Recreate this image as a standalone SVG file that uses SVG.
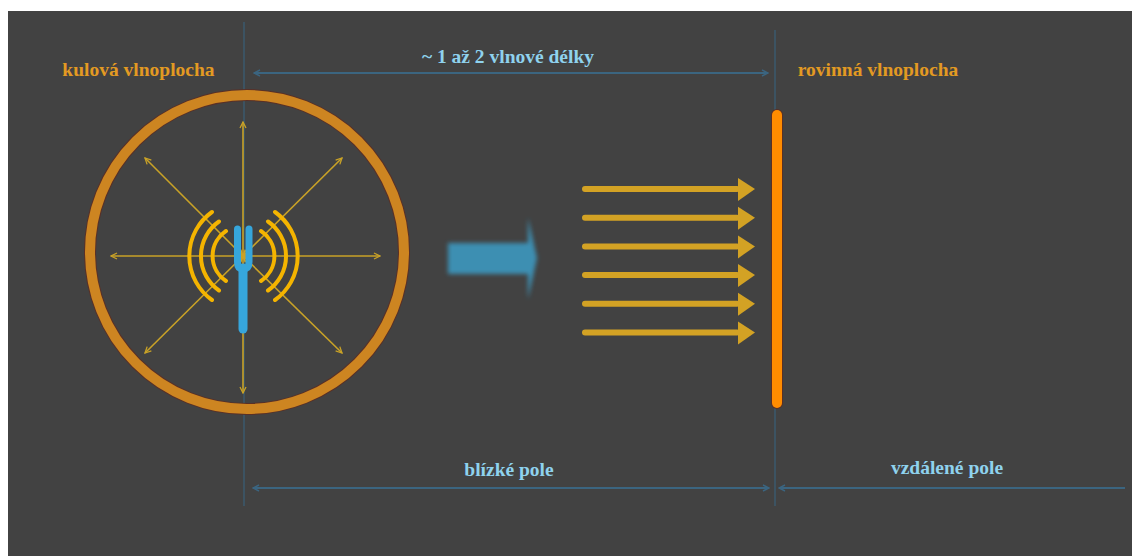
<svg xmlns="http://www.w3.org/2000/svg" width="1132" height="556" viewBox="0 0 1132 556">
  <defs>
    <style>
      .dim { stroke: #3b6580; stroke-width: 2; fill: none; }
      .guide { stroke: #3b5a6e; stroke-width: 1.5; fill: none; }
      .radial { stroke: #c9a227; stroke-width: 1.6; fill: none; marker-start: url(#chev); marker-end: url(#chev); }
      .wave { stroke: #f4b400; stroke-width: 4; fill: none; stroke-linecap: round; }
      .ant { stroke: #36a6dc; fill: none; stroke-linecap: round; stroke-linejoin: round; }
      .ray { fill: #d3a224; }
      .lbl-o { font-family: "Liberation Serif", "Times New Roman", serif; font-weight: bold; font-size: 19.5px; fill: #e39a22; }
      .lbl-b { font-family: "Liberation Serif", "Times New Roman", serif; font-weight: bold; font-size: 19.5px; fill: #8fd2ee; text-anchor: middle; }
    </style>
    <marker id="chev" viewBox="0 0 8 8" refX="7" refY="4" markerWidth="8" markerHeight="8" markerUnits="userSpaceOnUse" orient="auto-start-reverse">
      <path d="M1,1 L7,4 L1,7" fill="none" stroke="#c9a227" stroke-width="1.3"/>
    </marker>
    <marker id="dimhead" viewBox="0 0 8 8" refX="7" refY="4" markerWidth="8" markerHeight="8" markerUnits="userSpaceOnUse" orient="auto-start-reverse">
      <path d="M1,1 L7,4 L1,7" fill="none" stroke="#3b6580" stroke-width="1.4"/>
    </marker>
    <filter id="soft" x="-20%" y="-20%" width="140%" height="140%">
      <feGaussianBlur stdDeviation="2.2"/>
    </filter>
  </defs>

  <!-- canvas -->
  <rect x="0" y="0" width="1132" height="556" fill="#ffffff"/>
  <rect x="8" y="11" width="1124" height="545" fill="#424242"/>

  <!-- dimension lines and guides -->
  <g id="connectors">
    <line class="guide" x1="244" y1="22" x2="244" y2="506"/>
    <line class="guide" x1="775" y1="30" x2="775" y2="506"/>
    <line class="dim" x1="254" y1="73" x2="768" y2="73" marker-start="url(#dimhead)" marker-end="url(#dimhead)"/>
    <line class="dim" x1="253" y1="488" x2="769" y2="488" marker-start="url(#dimhead)" marker-end="url(#dimhead)"/>
    <line class="dim" x1="779" y1="488" x2="1125" y2="488" marker-start="url(#dimhead)"/>
  </g>

  <!-- spherical wavefront with the source -->
  <g id="spherical-wavefront">
    <circle cx="247" cy="252" r="157" fill="none" stroke="#5a3026" stroke-width="12"/>
    <circle cx="247" cy="252" r="157" fill="none" stroke="#cd8521" stroke-width="10"/>
    <line class="radial" x1="243" y1="256" x2="111" y2="256"/>
    <line class="radial" x1="243" y1="256" x2="380" y2="256"/>
    <line class="radial" x1="243" y1="256" x2="243" y2="122"/>
    <line class="radial" x1="243" y1="256" x2="243" y2="393"/>
    <line class="radial" x1="243" y1="256" x2="145" y2="158"/>
    <line class="radial" x1="243" y1="256" x2="342" y2="158"/>
    <line class="radial" x1="243" y1="256" x2="145" y2="353"/>
    <line class="radial" x1="243" y1="256" x2="342" y2="353"/>
  </g>

  <g id="source">
    <!-- emitted waves, left -->
    <path class="wave" d="M226,231 A30,30 0 0 0 226,281"/>
    <path class="wave" d="M219,221.5 A42,42 0 0 0 219,290.5"/>
    <path class="wave" d="M212,212 A54,54 0 0 0 212,300"/>
    <!-- emitted waves, right -->
    <path class="wave" d="M261,231 A30,30 0 0 1 261,281"/>
    <path class="wave" d="M268,221.5 A42,42 0 0 1 268,290.5"/>
    <path class="wave" d="M275,212 A54,54 0 0 1 275,300"/>
    <!-- antenna -->
    <path class="ant" stroke-width="7" d="M237.5,229 V262 Q237.5,269 243,269 Q249,269 249,262 V229"/>
    <line class="ant" stroke-width="9" x1="243" y1="268" x2="243" y2="329"/>
  </g>

  <!-- propagation arrow -->
  <g id="propagation">
    <polygon filter="url(#soft)" fill="#3d8fb2" points="448,243 528,243 528,218 537,258 528,299 528,274 448,274"/>
  </g>

  <!-- plane wave rays -->
  <g id="plane-rays">
    <g id="ray-1"><rect class="ray" x="582" y="186" width="158" height="6" rx="3"/><polygon class="ray" points="738,178 755,189 738,201"/></g>
    <g id="ray-2"><rect class="ray" x="582" y="214.7" width="158" height="6" rx="3"/><polygon class="ray" points="738,206.7 755,217.7 738,229.7"/></g>
    <g id="ray-3"><rect class="ray" x="582" y="243.4" width="158" height="6" rx="3"/><polygon class="ray" points="738,235.4 755,246.4 738,258.4"/></g>
    <g id="ray-4"><rect class="ray" x="582" y="272.1" width="158" height="6" rx="3"/><polygon class="ray" points="738,264.1 755,275.1 738,287.1"/></g>
    <g id="ray-5"><rect class="ray" x="582" y="300.8" width="158" height="6" rx="3"/><polygon class="ray" points="738,292.8 755,303.8 738,315.8"/></g>
    <g id="ray-6"><rect class="ray" x="582" y="329.5" width="158" height="6" rx="3"/><polygon class="ray" points="738,321.5 755,332.5 738,344.5"/></g>
  </g>

  <!-- planar wavefront -->
  <g id="planar-wavefront">
    <line x1="777" y1="115" x2="777" y2="403" stroke="#5a3026" stroke-width="12" stroke-linecap="round"/>
    <line x1="777" y1="115" x2="777" y2="403" stroke="#ff8c00" stroke-width="10" stroke-linecap="round"/>
  </g>

  <!-- labels -->
  <g id="label-spherical"><text class="lbl-o" x="138.5" y="76" text-anchor="middle">kulová vlnoplocha</text></g>
  <g id="label-planar"><text class="lbl-o" x="878" y="76" text-anchor="middle">rovinná vlnoplocha</text></g>
  <g id="label-distance"><text class="lbl-b" x="508" y="63">~ 1 až 2 vlnové délky</text></g>
  <g id="label-near"><text class="lbl-b" x="509" y="476">blízké pole</text></g>
  <g id="label-far"><text class="lbl-b" x="947" y="474">vzdálené pole</text></g>
</svg>
